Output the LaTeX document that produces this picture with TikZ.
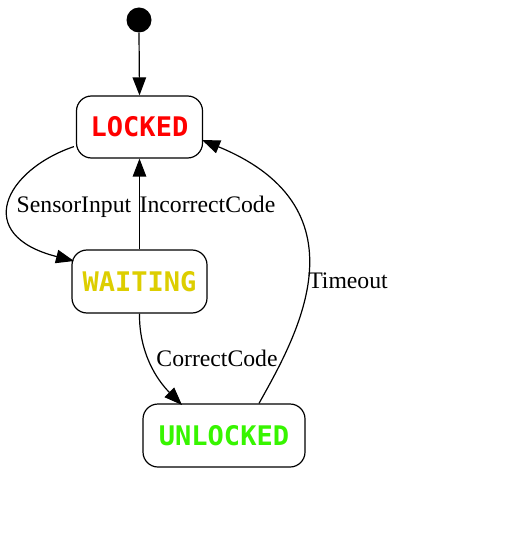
\documentclass[tikz,border=0pt]{standalone}
\usepackage{fontspec}
\setmainfont{Liberation Serif}
\newfontfamily\statefont{DejaVu Sans Mono}
\usetikzlibrary{arrows.meta}
\definecolor{lockedc}{RGB}{255,0,0}
\definecolor{waitingc}{RGB}{221,206,0}
\definecolor{unlockedc}{RGB}{55,245,0}
\tikzset{
  statebox/.style={draw=black, line width=1.2pt, rounded corners=15pt, fill=white,
    font=\statefont\bfseries\fontsize{27}{30}\selectfont, inner sep=0pt},
  conn/.style={draw=black, line width=1.2pt, -{Triangle[length=18pt,width=13.5pt]}},
  lbl/.style={font=\fontsize{23.7}{27}\selectfont, anchor=base, inner sep=0pt},
}
\begin{document}
\begin{tikzpicture}[x=1pt,y=1pt]
\useasboundingbox (0,0) rectangle (506,-534);
\node[circle, fill=black, minimum size=25pt, inner sep=0pt] (start) at (139,-20) {};
\node[statebox, minimum width=126pt, minimum height=62pt, text=lockedc] (locked) at (139.5,-127) {LOCKED};
\node[statebox, minimum width=135pt, minimum height=63pt, text=waitingc] (waiting) at (139.5,-281.5) {WAITING};
\node[statebox, minimum width=162pt, minimum height=63pt, text=unlockedc] (unlocked) at (224,-435.5) {UNLOCKED};
\coordinate (sTip) at (74,-261);
\coordinate (tTip) at (202,-140);
\coordinate (cTip) at (182,-405);
\draw[conn] (start.south) -- (locked.north);
\draw[conn] ([xshift=-2pt,yshift=12pt]locked.south west) .. controls (5,-170) and (-28,-235) .. (sTip);
\draw[conn] (waiting.north) -- (locked.south);
\draw[conn] (waiting.south) .. controls (139,-353) and (157,-380) .. (cTip);
\draw[conn] ([xshift=35pt]unlocked.north) .. controls (293,-342) and (372,-210) .. (tTip);
\node[lbl] (l1) at (74,-212) {SensorInput};
\node[lbl] (l2) at (207.5,-212) {IncorrectCode};
\node[lbl] (l3) at (217,-366) {CorrectCode};
\node[lbl] (l4) at (348,-288) {Timeout};
\end{tikzpicture}
\end{document}
